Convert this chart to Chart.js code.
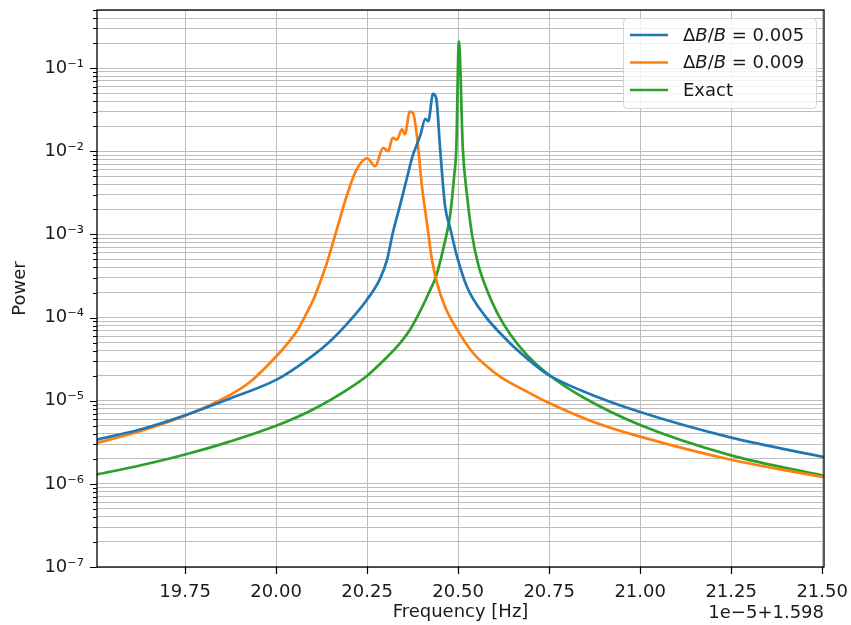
<!DOCTYPE html>
<html>
<head>
<meta charset="utf-8">
<script src="https://cdn.jsdelivr.net/npm/chart.js@4/dist/chart.umd.min.js"></script>
<style>
    html, body { margin: 0; padding: 0; background: #fff; }
    #wrap { width: 851px; height: 625px; }
</style>
</head>
<body>
<div id="wrap"><canvas id="powerChart" width="851" height="625"></canvas></div>
<script>
// Frequency offsets in units of 1e-5 Hz (axis offset 1.598) and power values
const FREQ_BLUE = [19.508, 19.626, 19.75, 19.87, 20.0, 20.066, 20.14, 20.21, 20.25, 20.285, 20.305, 20.32, 20.34,
    20.36, 20.374, 20.396, 20.41, 20.418, 20.431, 20.44, 20.45, 20.464, 20.478, 20.497, 20.525, 20.57, 20.635,
    20.69, 20.747, 20.843, 21.0, 21.25, 21.505];
const POWER_BLUE = [3.4e-6, 4.5e-6, 6.7e-6, 1.05e-5, 1.78e-5, 2.7e-5, 4.8e-5, 1.0e-4, 1.65e-4, 2.9e-4, 5.0e-4, 1.02e-3, 2.2e-3,
    4.9e-3, 8.5e-3, 1.55e-2, 2.45e-2, 2.3e-2, 4.9e-2, 4.3e-2, 1.15e-2, 2.2e-3, 1.2e-3, 5.4e-4, 2.3e-4, 1.1e-4, 5.3e-5,
    3.2e-5, 2.06e-5, 1.3e-5, 7.3e-6, 3.6e-6, 2.1e-6];

const FREQ_ORANGE = [19.508, 19.626, 19.75, 19.87, 19.93, 20.0, 20.03, 20.06, 20.08, 20.105, 20.12, 20.14, 20.168,
    20.195, 20.22, 20.25, 20.272, 20.294, 20.308, 20.32, 20.332, 20.346, 20.354, 20.367, 20.376, 20.387, 20.4,
    20.415, 20.428, 20.442, 20.464, 20.497, 20.54, 20.57, 20.615, 20.68, 20.747, 20.87, 21.0, 21.25, 21.505];
const POWER_ORANGE = [3.1e-6, 4.3e-6, 6.6e-6, 1.15e-5, 1.7e-5, 3.4e-5, 4.8e-5, 7.2e-5, 1.05e-4, 1.75e-4, 2.6e-4, 4.6e-4, 1.2e-3,
    3.0e-3, 5.9e-3, 8.2e-3, 6.6e-3, 1.1e-2, 1.0e-2, 1.45e-2, 1.38e-2, 1.85e-2, 1.6e-2, 3.0e-2, 2.9e-2, 1.5e-2, 4.0e-3,
    1.3e-3, 5.0e-4, 2.6e-4, 1.35e-4, 7.2e-5, 3.8e-5, 2.8e-5, 1.95e-5, 1.35e-5, 9.5e-6, 5.6e-6, 3.7e-6, 1.95e-6, 1.2e-6];

const FREQ_EXACT = [19.508, 19.626, 19.75, 19.87, 20.0, 20.1, 20.2, 20.25, 20.3, 20.34, 20.37, 20.396, 20.42, 20.44,
    20.464, 20.478, 20.489, 20.495, 20.502, 20.513, 20.525, 20.538, 20.555, 20.58, 20.607, 20.643, 20.69, 20.747,
    20.843, 21.0, 21.25, 21.505];
const POWER_EXACT = [1.3e-6, 1.66e-6, 2.25e-6, 3.2e-6, 5.0e-6, 7.8e-6, 1.4e-5, 2.0e-5, 3.2e-5, 4.9e-5, 7.4e-5, 1.2e-4, 2.0e-4, 3.2e-4,
    8.3e-4, 1.7e-3, 5.0e-3, 1.1e-2, 0.21, 1.05e-2, 2.8e-3, 1.0e-3, 4.4e-4, 2.1e-4, 1.15e-4, 6.3e-5, 3.5e-5, 2.08e-5,
    1.1e-5, 5.1e-6, 2.2e-6, 1.25e-6];

const X_TICKS = [19.75, 20.0, 20.25, 20.5, 20.75, 21.0, 21.25, 21.5];
const Y_DECADES = [-7, -6, -5, -4, -3, -2, -1];
const Y_TICK_LABELS = ['10\u207B\u2077', '10\u207B\u2076', '10\u207B\u2075', '10\u207B\u2074',
    '10\u207B\u00B3', '10\u207B\u00B2', '10\u207B\u00B9'];

const X_MIN = 19.508, X_MAX = 21.505;
const Y_MIN = 1e-7, Y_MAX = 0.5;

const FONT = "'DejaVu Sans', sans-serif";
const TEXT_COLOR = '#1a1a1a';

function toPoints(xs, ys) {
    return xs.map((x, i) => ({ x: x, y: ys[i] }));
}

// keep the plot box where the reference has it
function noScalePadding(scale) {
    scale.paddingLeft = 0;
    scale.paddingRight = 0;
    scale.paddingTop = 0;
    scale.paddingBottom = 0;
}

// Draws frame, tick marks, axis titles, offset text and the legend box
const decorations = {
    id: 'decorations',
    afterDatasetsDraw(chart) {
        const ctx = chart.ctx;
        const area = chart.chartArea;
        const xs = chart.scales.x;
        const ys = chart.scales.y;

        ctx.save();
        ctx.strokeStyle = '#000';
        ctx.lineWidth = 1.3;
        ctx.strokeRect(area.left, area.top, area.right - area.left, area.bottom - area.top);

        // tick marks
        ctx.lineWidth = 1.2;
        ctx.beginPath();
        X_TICKS.forEach(v => {
            const px = Math.round(xs.getPixelForValue(v)) + 0.5;
            ctx.moveTo(px, area.bottom);
            ctx.lineTo(px, area.bottom + 7);
        });
        ys.ticks.forEach(t => {
            const py = Math.round(ys.getPixelForValue(t.value)) + 0.5;
            const major = Y_DECADES.some(e => Math.abs(t.value / Math.pow(10, e) - 1) < 1e-6);
            ctx.moveTo(area.left, py);
            ctx.lineTo(area.left - (major ? 7 : 4), py);
        });
        ctx.stroke();

        // axis titles
        ctx.fillStyle = TEXT_COLOR;
        ctx.font = '18px ' + FONT;
        ctx.textAlign = 'center';
        ctx.textBaseline = 'middle';
        ctx.fillText('Frequency [Hz]', (area.left + area.right) / 2, 612);
        ctx.textAlign = 'right';
        ctx.fillText('1e\u22125+1.598', area.right, 613);
        ctx.save();
        ctx.translate(20, (area.top + area.bottom) / 2);
        ctx.rotate(-Math.PI / 2);
        ctx.textAlign = 'center';
        ctx.fillText('Power', 0, 0);
        ctx.restore();

        // legend
        const bx = 623, by = 18, bw = 193, bh = 90;
        ctx.fillStyle = 'rgba(255,255,255,0.8)';
        ctx.strokeStyle = '#d6d6d6';
        ctx.lineWidth = 1;
        ctx.beginPath();
        ctx.roundRect(bx + 0.5, by + 0.5, bw, bh, 4);
        ctx.fill();
        ctx.stroke();

        const rows = [
            { color: '#1f77b4', parts: [['\u0394', ''], ['B', 'italic '], ['/', ''], ['B', 'italic '], [' = 0.005', '']] },
            { color: '#ff7f0e', parts: [['\u0394', ''], ['B', 'italic '], ['/', ''], ['B', 'italic '], [' = 0.009', '']] },
            { color: '#2ca02c', parts: [['Exact', '']] }
        ];
        rows.forEach((row, i) => {
            const y = 35 + i * 27.5;
            ctx.strokeStyle = row.color;
            ctx.lineWidth = 2.7;
            ctx.beginPath();
            ctx.moveTo(630, y);
            ctx.lineTo(668, y);
            ctx.stroke();
            let tx = 683;
            ctx.fillStyle = TEXT_COLOR;
            ctx.textAlign = 'left';
            ctx.textBaseline = 'middle';
            row.parts.forEach(p => {
                ctx.font = p[1] + '18px ' + FONT;
                ctx.fillText(p[0], tx, y + 1);
                tx += ctx.measureText(p[0]).width;
            });
        });
        ctx.restore();
    }
};

function buildChart() {
    const canvas = document.getElementById('powerChart');

    const lineStyle = {
        pointRadius: 0,
        borderWidth: 2.7,
        borderJoinStyle: 'round',
        cubicInterpolationMode: 'monotone',
        fill: false
    };

    new Chart(canvas, {
        type: 'line',
        data: {
            datasets: [
                Object.assign({ label: '\u0394B/B = 0.005', data: toPoints(FREQ_BLUE, POWER_BLUE), borderColor: '#1f77b4' }, lineStyle),
                Object.assign({ label: '\u0394B/B = 0.009', data: toPoints(FREQ_ORANGE, POWER_ORANGE), borderColor: '#ff7f0e' }, lineStyle),
                Object.assign({ label: 'Exact', data: toPoints(FREQ_EXACT, POWER_EXACT), borderColor: '#2ca02c' }, lineStyle)
            ]
        },
        options: {
            responsive: false,
            animation: false,
            layout: { padding: { top: 10, right: 27, left: 0, bottom: 0 } },
            plugins: {
                legend: { display: false },
                tooltip: { enabled: false }
            },
            scales: {
                x: {
                    type: 'linear',
                    min: X_MIN,
                    max: X_MAX,
                    afterFit: function(scale) {
                        scale.height = 58;
                        noScalePadding(scale);
                    },
                    afterBuildTicks: function(scale) {
                        scale.ticks = X_TICKS.map(v => ({ value: v }));
                    },
                    ticks: {
                        autoSkip: false,
                        maxRotation: 0,
                        padding: 15,
                        color: TEXT_COLOR,
                        font: { family: FONT, size: 18 },
                        callback: function(value) { return Number(value).toFixed(2); }
                    },
                    grid: {
                        color: '#bdbdbd',
                        lineWidth: 1,
                        drawTicks: false
                    },
                    border: { display: false }
                },
                y: {
                    type: 'logarithmic',
                    min: Y_MIN,
                    max: Y_MAX,
                    afterFit: function(scale) {
                        scale.width = 97;
                        noScalePadding(scale);
                    },
                    afterBuildTicks: function(scale) {
                        const ticks = [];
                        Y_DECADES.forEach(e => {
                            for (let k = 1; k <= 9; k++) {
                                const v = k * Math.pow(10, e);
                                if (v <= Y_MAX * 1.0001) ticks.push({ value: v });
                            }
                        });
                        scale.ticks = ticks;
                    },
                    ticks: {
                        autoSkip: false,
                        padding: 13,
                        color: TEXT_COLOR,
                        font: { family: FONT, size: 18 },
                        callback: function(value) {
                            const idx = Y_DECADES.findIndex(e => Math.abs(value / Math.pow(10, e) - 1) < 1e-6);
                            return idx >= 0 ? Y_TICK_LABELS[idx] : '';
                        }
                    },
                    grid: {
                        color: '#bdbdbd',
                        lineWidth: 1,
                        drawTicks: false
                    },
                    border: { display: false }
                }
            }
        },
        plugins: [decorations]
    });
}

document.addEventListener('DOMContentLoaded', buildChart);
</script>
</body>
</html>
